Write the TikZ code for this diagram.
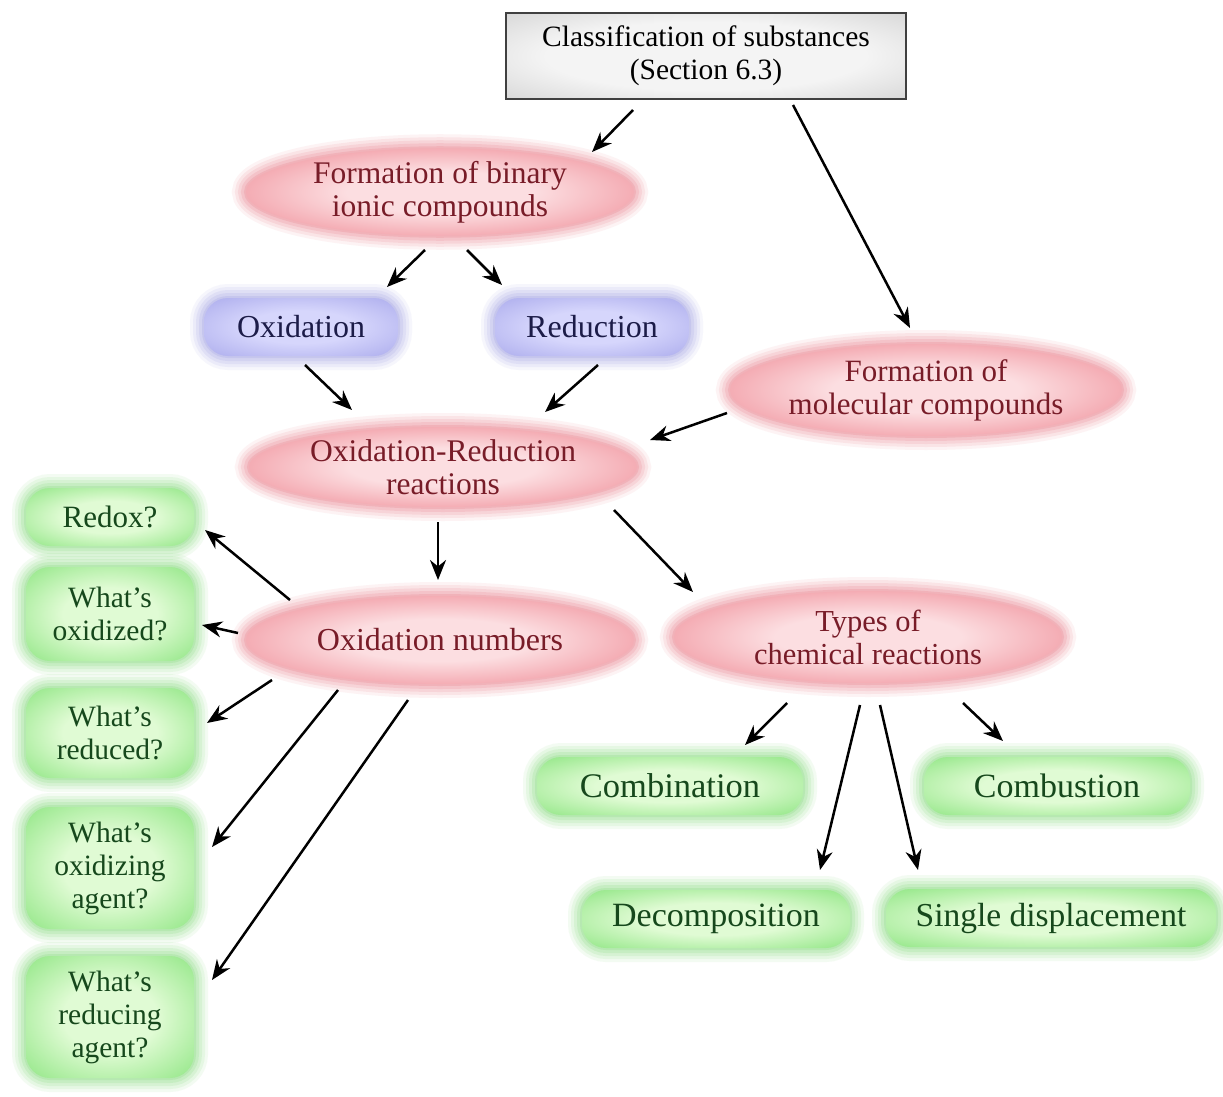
\documentclass[tikz,border=0pt]{standalone}
\usepackage{fontspec}
\setmainfont{Liberation Serif}
\usetikzlibrary{shapes.geometric,arrows.meta}
\definecolor{redE}{RGB}{230,102,116}
\definecolor{redF}{RGB}{242,162,170}
\definecolor{redM}{RGB}{240,146,156}
\definecolor{redC}{RGB}{252,222,225}
\definecolor{redT}{RGB}{120,28,40}
\definecolor{bluE}{RGB}{144,144,224}
\definecolor{bluF}{RGB}{190,190,238}
\definecolor{bluM}{RGB}{176,176,238}
\definecolor{bluC}{RGB}{214,214,252}
\definecolor{bluT}{RGB}{28,28,72}
\definecolor{grnE}{RGB}{112,212,100}
\definecolor{grnF}{RGB}{170,232,160}
\definecolor{grnM}{RGB}{152,232,140}
\definecolor{grnC}{RGB}{224,251,212}
\definecolor{grnT}{RGB}{22,72,28}
\definecolor{gryE}{RGB}{190,190,190}
\definecolor{gryC}{RGB}{244,244,244}
\pgfdeclareradialshading{shR}{\pgfpoint{0bp}{0bp}}{color(0bp)=(redC); color(12bp)=(redC); color(32bp)=(redM); color(43bp)=(redE); color(50bp)=(redF)}
\pgfdeclareradialshading{shB}{\pgfpoint{0bp}{0bp}}{color(0bp)=(bluC); color(14bp)=(bluC); color(34bp)=(bluM); color(44bp)=(bluE); color(50bp)=(bluF)}
\pgfdeclareradialshading{shG}{\pgfpoint{0bp}{0bp}}{color(0bp)=(grnC); color(14bp)=(grnC); color(34bp)=(grnM); color(44bp)=(grnE); color(50bp)=(grnF)}
\pgfdeclareradialshading{shK}{\pgfpoint{0bp}{0bp}}{color(0bp)=(gryC); color(20bp)=(gryC); color(50bp)=(gryE)}
\tikzset{
  glow/.style={preaction={draw=#1, line width=28pt, opacity=0.08},
               preaction={draw=#1, line width=22pt, opacity=0.10},
               preaction={draw=#1, line width=16pt, opacity=0.12},
               preaction={draw=#1, line width=10pt, opacity=0.15},
               preaction={draw=#1, line width=4pt, opacity=0.18}},
  txt/.style={font=\fontsize{#1}{33}\selectfont, align=center, inner sep=0pt},
  txt/.default=30,
  topbox/.style={txt=29.5, rectangle, shading=shK, draw=black!75, line width=2pt,
                 minimum width=400pt, minimum height=86pt},
  redell/.style={txt=31, ellipse, shading=shR, glow=redE, text=redT,
                 minimum width=388pt, minimum height=80pt},
  blubox/.style={txt=32, rectangle, rounded corners=24pt, shading=shB, glow=bluE, text=bluT,
                 minimum width=194pt, minimum height=58pt},
  grnbox/.style={txt=29.5, rectangle, rounded corners=24pt, shading=shG, glow=grnE, text=grnT,
                 minimum width=#1, minimum height=58pt},
  grnbox/.default=168pt,
  arr/.style={line width=2.5pt, -{Stealth[length=20pt,width=16pt]}}
}
\begin{document}
\begin{tikzpicture}[x=1pt,y=-1pt]
\fill[white] (0,0) rectangle (1223,1097);
\useasboundingbox (0,0) rectangle (1223,1097);

\node[topbox] (top) at (706,56) {Classification of substances\\(Section 6.3)};
\node[redell, txt=31.5] (bin) at (440,192) {Formation of binary\\ionic compounds};
\node[blubox] (oxi) at (301,327) {Oxidation};
\node[blubox] (red) at (592,327) {Reduction};
\node[redell, minimum width=392pt, minimum height=92pt] (mol) at (926,390) {Formation of\\molecular compounds};
\node[redell, txt=31.5] (orr) at (443,467) {Oxidation-Reduction\\reactions};
\node[redell, txt=32, minimum height=88pt] (onum) at (440,640) {Oxidation numbers};
\node[redell, txt=30.5, minimum height=92pt] (types) at (868,637) {Types of\\chemical reactions};

\node[grnbox, txt=31] (redox) at (110,517) {Redox?};
\node[grnbox, minimum height=94pt] (oxd) at (110,614) {What's\\oxidized?};
\node[grnbox, minimum height=90pt] (rdc) at (110,733) {What's\\reduced?};
\node[grnbox, minimum height=122pt] (oxa) at (110,868) {What's\\oxidizing\\agent?};
\node[grnbox, minimum height=122pt] (rda) at (110,1017) {What's\\reducing\\agent?};

\node[grnbox=266pt, txt=34.5] (comb) at (670,786) {Combination};
\node[grnbox=266pt, txt=34] (cbst) at (1057,786) {Combustion};
\node[grnbox=268pt, txt=34] (dec) at (716,919) {Decomposition};
\node[grnbox=330pt, txt=33.5] (sd) at (1051,918) {Single displacement};

\draw[arr] ([shift={(-73,54)}]top.center) -- ([shift={(152,-40)}]bin.center);
\draw[arr] ([shift={(87,49)}]top.center) -- ([shift={(-16,-62)}]mol.center);
\draw[arr] ([shift={(-15,58)}]bin.center) -- ([shift={(86,-40)}]oxi.center);
\draw[arr] ([shift={(27,58)}]bin.center) -- ([shift={(-90,-42)}]red.center);
\draw[arr] ([shift={(4,38)}]oxi.center) -- ([shift={(-91,-57)}]orr.center);
\draw[arr] ([shift={(6,38)}]red.center) -- ([shift={(102,-55)}]orr.center);
\draw[arr] ([shift={(-199,23)}]mol.center) -- ([shift={(207,-27)}]orr.center);
\draw[arr] ([shift={(-5,55)}]orr.center) -- ([shift={(-2,-60)}]onum.center);
\draw[arr] ([shift={(171,43)}]orr.center) -- ([shift={(-175,-45)}]types.center);
\draw[arr] ([shift={(-150,-40)}]onum.center) -- ([shift={(95,13)}]redox.center);
\draw[arr] ([shift={(-202,-7)}]onum.center) -- ([shift={(92,11)}]oxd.center);
\draw[arr] ([shift={(-168,40)}]onum.center) -- ([shift={(97,-10)}]rdc.center);
\draw[arr] ([shift={(-102,50)}]onum.center) -- ([shift={(102,-21)}]oxa.center);
\draw[arr] ([shift={(-32,60)}]onum.center) -- ([shift={(102,-37)}]rda.center);
\draw[arr] ([shift={(-81,66)}]types.center) -- ([shift={(75,-41)}]comb.center);
\draw[arr] ([shift={(95,66)}]types.center) -- ([shift={(-54,-45)}]cbst.center);
\draw[arr] ([shift={(-8,68)}]types.center) -- ([shift={(104,-49)}]dec.center);
\draw[arr] ([shift={(12,68)}]types.center) -- ([shift={(-133,-48)}]sd.center);
\end{tikzpicture}
\end{document}
